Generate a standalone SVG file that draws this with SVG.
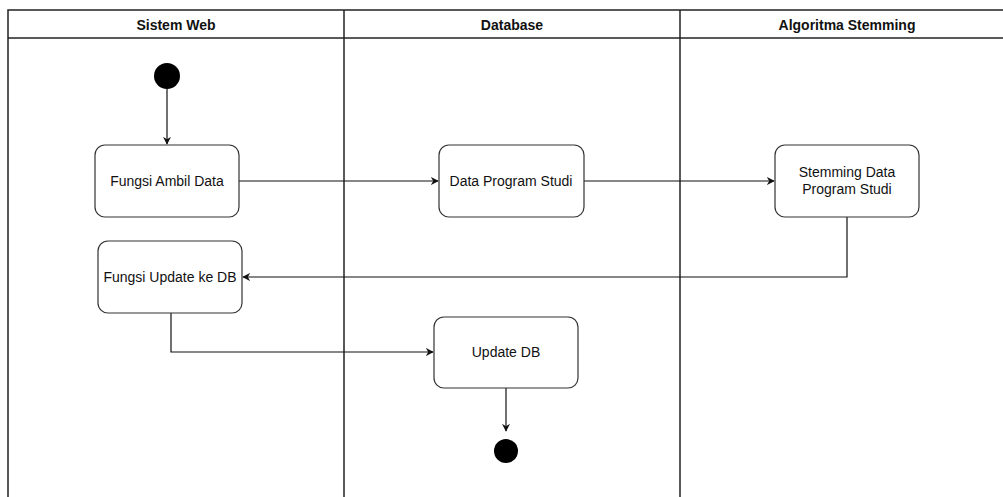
<svg xmlns="http://www.w3.org/2000/svg" width="1003" height="497" viewBox="0 0 1003 497">
<defs>
<style>
.lane{fill:none;stroke:#222;stroke-width:1.5}
.hdr{font-family:"Liberation Sans",Arial,sans-serif;font-size:14px;font-weight:bold;fill:#111;text-anchor:middle}
.box{fill:#fff;stroke:#333;stroke-width:1.2}
.lbl{font-family:"Liberation Sans",Arial,sans-serif;font-size:14px;fill:#111;text-anchor:middle}
.con{fill:none;stroke:#111;stroke-width:1.2;marker-end:url(#arr)}
</style>
<marker id="arr" viewBox="0 0 10 10" refX="9" refY="5" markerWidth="8" markerHeight="8" markerUnits="userSpaceOnUse" orient="auto">
<path d="M0,0 L10,5 L0,10 L3,5 Z" fill="#111"/>
</marker>
</defs>
<rect x="0" y="0" width="1003" height="497" fill="#fff"/>
<g id="lanes">
<rect class="lane" x="8" y="10" width="1010" height="500"/>
<line class="lane" x1="8" y1="38" x2="1003" y2="38"/>
<line class="lane" x1="344" y1="10" x2="344" y2="497"/>
<line class="lane" x1="680" y1="10" x2="680" y2="497"/>
<text class="hdr" x="176" y="30">Sistem Web</text>
<text class="hdr" x="512" y="30">Database</text>
<text class="hdr" x="847" y="30">Algoritma Stemming</text>
</g>
<g id="connectors">
<path class="con" d="M167,89 L167,144"/>
<path class="con" d="M239,181 L438,181"/>
<path class="con" d="M584,181 L774,181"/>
<path class="con" d="M847,217 L847,277 L243,277"/>
<path class="con" d="M171,313 L171,352 L433,352"/>
<path class="con" d="M506,388 L506,431"/>
</g>
<g id="start"><circle cx="167" cy="76" r="13" fill="#000"/></g>
<g id="fungsi-ambil"><rect class="box" x="95" y="145" width="144" height="72" rx="10"/><text class="lbl" x="167" y="186">Fungsi Ambil Data</text></g>
<g id="data-prodi"><rect class="box" x="439" y="145" width="145" height="72" rx="10"/><text class="lbl" x="511" y="186">Data Program Studi</text></g>
<g id="stemming"><rect class="box" x="775" y="145" width="144" height="72" rx="10"/><text class="lbl" x="847" y="177">Stemming Data</text><text class="lbl" x="847" y="194">Program Studi</text></g>
<g id="fungsi-update"><rect class="box" x="98" y="241" width="144" height="72" rx="10"/><text class="lbl" x="170" y="282">Fungsi Update ke DB</text></g>
<g id="update-db"><rect class="box" x="434" y="317" width="144" height="71" rx="10"/><text class="lbl" x="506" y="357">Update DB</text></g>
<g id="end"><circle cx="506" cy="451" r="12" fill="#000"/></g>
</svg>
